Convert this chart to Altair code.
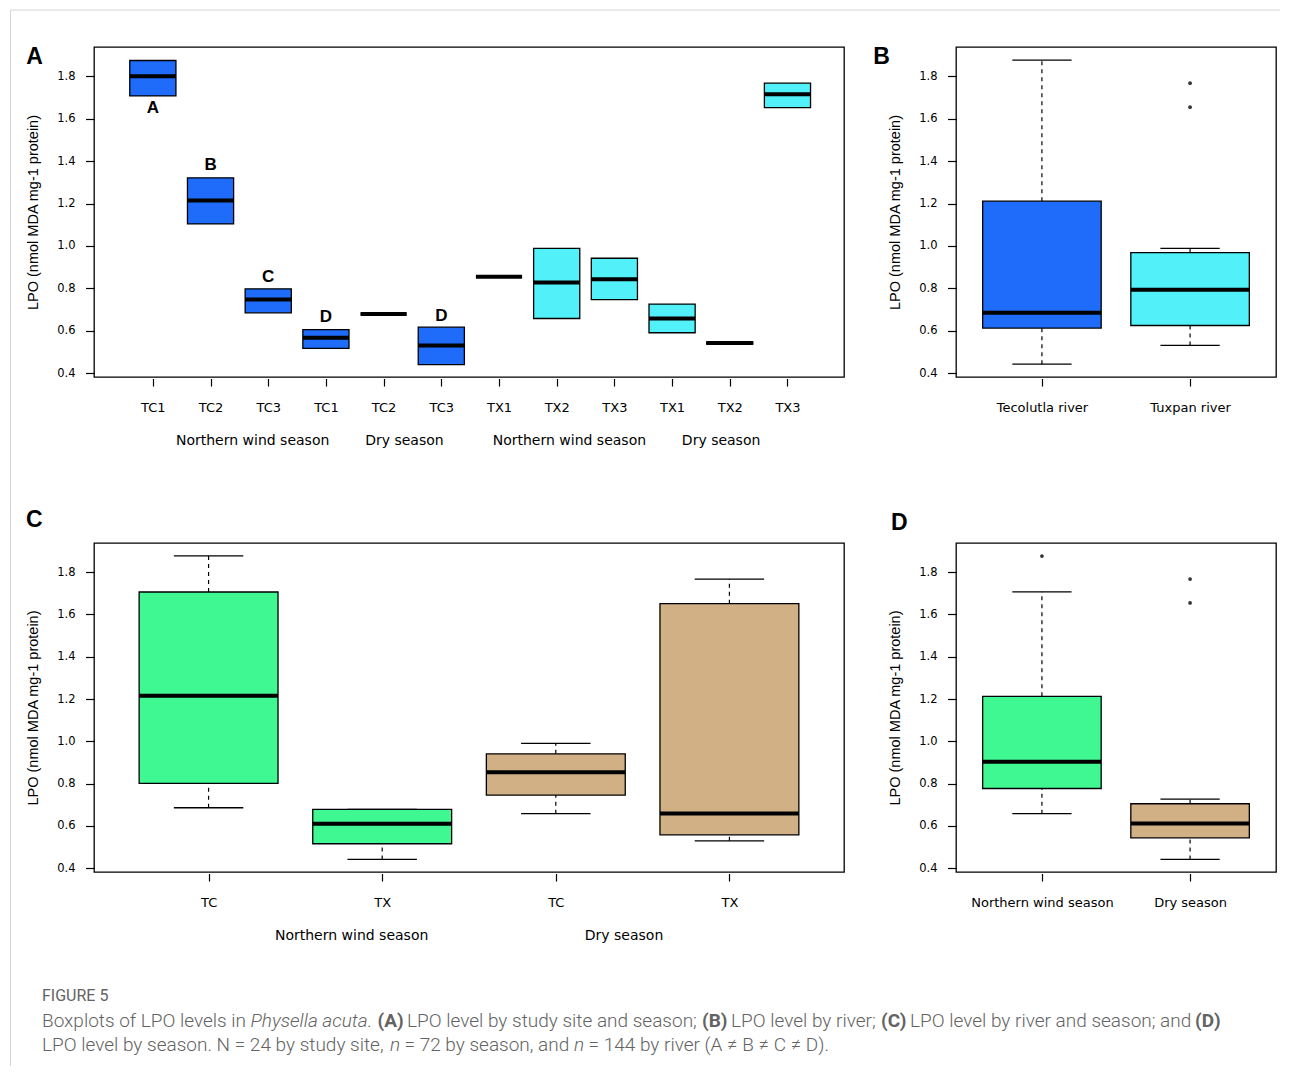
import json
import altair as alt
import pandas as pd

# ---------------- data ----------------
YTICKS = [0.4, 0.6, 0.8, 1.0, 1.2, 1.4, 1.6, 1.8]
YTITLE = "LPO (nmol MDA mg-1 protein)"

# Panel A: by study site and season
A_sites = ["TC1", "TC2", "TC3", "TC1", "TC2", "TC3", "TX1", "TX2", "TX3", "TX1", "TX2", "TX3"]
A_river = ["Tecolutla"] * 6 + ["Tuxpan"] * 6
A_q1 = [1.707, 1.104, 0.685, 0.517, 0.679, 0.441, 0.855, 0.658, 0.747, 0.591, 0.538, 1.652]
A_med = [1.800, 1.214, 0.748, 0.567, 0.679, 0.531, 0.855, 0.828, 0.843, 0.658, 0.543, 1.715]
A_q3 = [1.874, 1.321, 0.798, 0.606, 0.679, 0.617, 0.855, 0.989, 0.942, 0.726, 0.548, 1.767]
A_letter_text = ["A", "B", "C", "D", "D"]
A_letter_pos = [1, 2, 3, 4, 6]
A_letter_val = [1.649, 1.381, 0.853, 0.664, 0.672]
A_season_text = ["Northern wind season", "Dry season", "Northern wind season", "Dry season"]
A_season_pos = [2.73, 5.36, 8.22, 10.85]

# Panel B: by river
B_labels = ["Tecolutla river", "Tuxpan river"]
B_river = ["Tecolutla", "Tuxpan"]
B_lo = [0.443, 0.531]
B_q1 = [0.613, 0.625]
B_med = [0.685, 0.794]
B_q3 = [1.211, 0.969]
B_hi = [1.876, 0.989]
B_out_pos = [2, 2]
B_out_val = [1.767, 1.654]

# Panel C: by river and season
C_labels = ["TC", "TX", "TC", "TX"]
C_season = ["Northern wind", "Northern wind", "Dry", "Dry"]
C_lo = [0.686, 0.442, 0.658, 0.530]
C_q1 = [0.801, 0.516, 0.746, 0.558]
C_med = [1.215, 0.610, 0.854, 0.659]
C_q3 = [1.706, 0.678, 0.941, 1.651]
C_hi = [1.877, 0.678, 0.990, 1.767]
C_season_text = ["Northern wind season", "Dry season"]
C_season_pos = [1.824, 3.393]

# Panel D: by season
D_labels = ["Northern wind season", "Dry season"]
D_season = ["Northern wind", "Dry"]
D_lo = [0.658, 0.442]
D_q1 = [0.777, 0.544]
D_med = [0.903, 0.612]
D_q3 = [1.213, 0.705]
D_hi = [1.707, 0.727]
D_out_pos = [1, 2, 2]
D_out_val = [1.876, 1.767, 1.654]

# ---------------- styles ----------------
RIVER_DOM = ["Tecolutla", "Tuxpan"]
RIVER_COL = ["#1F6BFA", "#52F0F8"]
SEASON_DOM = ["Northern wind", "Dry"]
SEASON_COL = ["#40F891", "#D2B086"]
YDOM = [0.3824, 1.9376]
LBL_FONT = "DejaVu Sans"
TXT = "#000000"


def one(text):
    return alt.Data(values=[{"t": text}])


def panel(df, labels, xdom, width, height, cfield, cdom, crange,
          whiskers=True, outliers=None, label_size=13):
    n = len(labels)
    xs = alt.Scale(domain=xdom, nice=False, zero=False)
    ys = alt.Scale(domain=YDOM, nice=False, zero=False)
    xaxis = alt.Axis(values=list(range(1, n + 1)),
                     labelExpr=json.dumps(labels) + "[datum.value - 1]",
                     grid=False, domain=False, ticks=True, tickSize=7.5,
                     tickColor="black", tickWidth=1.2, offset=1.5,
                     labelFont=LBL_FONT, labelFontSize=label_size, labelColor=TXT,
                     labelPadding=15, labelAngle=0, labelFlush=False,
                     labelOverlap=False, labelBaseline="top")
    yaxis = alt.Axis(values=YTICKS, format=".1f", grid=False, domain=False,
                     ticks=True, tickSize=8.5, tickColor="black", tickWidth=1.2,
                     labelFont=LBL_FONT, labelFontSize=11.5, labelColor=TXT,
                     labelPadding=10.5, labelFlush=False, labelOverlap=False,
                     titleFont="Liberation Sans", titleFontSize=14.5,
                     titleFontWeight="normal", titleColor=TXT, titleAngle=270,
                     titleAlign="center", titleBaseline="middle",
                     titleX=-61, titleY=height / 2)

    def X(f):
        return alt.X(f"{f}:Q", scale=xs, axis=xaxis, title=None)

    def Y(f):
        return alt.Y(f"{f}:Q", scale=ys, axis=yaxis, title=YTITLE)

    base = alt.Chart(df).transform_calculate(
        xl="datum.pos - 0.4", xr="datum.pos + 0.4",
        cl="datum.pos - 0.2", cr="datum.pos + 0.2")
    layers = []
    if whiskers:
        dash = dict(color="black", strokeWidth=1.2, strokeDash=[4, 4])
        layers.append(base.mark_rule(**dash).encode(x=X("pos"), y=Y("q3"), y2="hi"))
        layers.append(base.mark_rule(**dash).encode(x=X("pos"), y=Y("lo"), y2="q1"))
        layers.append(base.mark_rule(color="black", strokeWidth=1.3).encode(
            x=X("cl"), x2="cr", y=Y("hi")))
        layers.append(base.mark_rule(color="black", strokeWidth=1.3).encode(
            x=X("cl"), x2="cr", y=Y("lo")))
    layers.append(base.mark_rect(stroke="black", strokeWidth=1.3, opacity=1).encode(
        x=X("xl"), x2="xr", y=Y("q1"), y2="q3",
        color=alt.Color(f"{cfield}:N", scale=alt.Scale(domain=cdom, range=crange),
                        legend=None)))
    layers.append(base.mark_rule(color="black", strokeWidth=4).encode(
        x=X("xl"), x2="xr", y=Y("med")))
    if outliers is not None:
        layers.append(alt.Chart(outliers).mark_point(
            filled=True, shape="circle", size=14, color="#333333", opacity=1).encode(
            x=X("pos"), y=Y("val")))
    return layers, X, Y


def panel_letter(text, x, y):
    return alt.Chart(one(text)).mark_text(
        font="Liberation Sans", fontWeight="bold", fontSize=23, color="black",
        align="center", baseline="middle", x=x, y=y).encode(text="t:N")


def season_labels(texts, pos, X, y, size=14):
    df = pd.DataFrame({"t": texts, "pos": pos})
    return alt.Chart(df).mark_text(
        font=LBL_FONT, fontSize=size, color=TXT, align="center",
        baseline="middle").encode(x=X("pos"), y=alt.value(y), text="t:N")


# ---------------- panel A ----------------
HA = 330
dfA = pd.DataFrame({"pos": list(range(1, 13)), "site": A_sites, "river": A_river,
                    "q1": A_q1, "med": A_med, "q3": A_q3})
layA, XA, YA = panel(dfA, A_sites, [-0.02, 12.98], 750, HA, "river",
                     RIVER_DOM, RIVER_COL, whiskers=False)
dfAL = pd.DataFrame({"t": A_letter_text, "pos": A_letter_pos, "val": A_letter_val})
layA.append(alt.Chart(dfAL).mark_text(
    font="Liberation Sans", fontWeight="bold", fontSize=17, color="black",
    align="center", baseline="middle").encode(x=XA("pos"), y=YA("val"), text="t:N"))
layA.append(season_labels(A_season_text, A_season_pos, XA, HA + 64))
layA.append(panel_letter("A", -59.5, 9.5))
# outer page frame of the figure
layA.append(alt.Chart(one("")).mark_rule(color="#d4d4d4", strokeWidth=1).encode(
    x=alt.value(-83.5), x2=alt.value(1186), y=alt.value(-37)))
layA.append(alt.Chart(one("")).mark_rule(color="#d4d4d4", strokeWidth=1).encode(
    x=alt.value(-83.5), y=alt.value(-37), y2=alt.value(1019)))
chartA = alt.layer(*layA).properties(width=750, height=HA)

# ---------------- panel B ----------------
dfB = pd.DataFrame({"pos": [1, 2], "river": B_river, "lo": B_lo, "q1": B_q1,
                    "med": B_med, "q3": B_q3, "hi": B_hi})
outB = pd.DataFrame({"pos": B_out_pos, "val": B_out_val})
layB, XB, YB = panel(dfB, B_labels, [0.42, 2.58], 320, HA, "river",
                     RIVER_DOM, RIVER_COL, outliers=outB)
layB.append(panel_letter("B", -74.5, 9.5))
chartB = alt.layer(*layB).properties(width=320, height=HA)

# ---------------- panel C ----------------
HC = 329
dfC = pd.DataFrame({"pos": [1, 2, 3, 4], "season": C_season, "lo": C_lo, "q1": C_q1,
                    "med": C_med, "q3": C_q3, "hi": C_hi})
layC, XC, YC = panel(dfC, C_labels, [0.34, 4.66], 750, HC, "season",
                     SEASON_DOM, SEASON_COL)
layC.append(season_labels(C_season_text, C_season_pos, XC, HC + 64))
layC.append(panel_letter("C", -59.7, -23.5))

# caption (figure legend), positioned relative to panel C
CAP_FONT = "Roboto"
CAP_SIZE = 19.0
CAP_COL = "#636363"
cap_segments = [
    # text, x, y, style, weight
    ("FIGURE 5", -52, 453, "normal", "normal"),
    ("Boxplots of LPO levels in", -52, 478, "normal", 300),
    ("Physella acuta", 156.5, 478, "italic", 300),
    (".", 273, 478, "normal", 300),
    ("(A)", 283.5, 478, "normal", "bold"),
    ("LPO level by study site and season;", 313, 478, "normal", 300),
    ("(B)", 608, 478, "normal", "bold"),
    ("LPO level by river;", 637, 478, "normal", 300),
    ("(C)", 787, 478, "normal", "bold"),
    ("LPO level by river and season; and", 816, 478, "normal", 300),
    ("(D)", 1101, 478, "normal", "bold"),
    ("LPO level by season. N = 24 by study site,", -52, 502, "normal", 300),
    ("n", 296, 502, "italic", 300),
    ("= 72 by season, and", 310.5, 502, "normal", 300),
    ("n", 480, 502, "italic", 300),
    ("= 144 by river (A \u2260 B \u2260 C \u2260 D).", 494.5, 502, "normal", 300),
]
for t, x, y, st, wt in cap_segments:
    size = 16 if t == "FIGURE 5" else CAP_SIZE
    layC.append(alt.Chart(one(t)).mark_text(
        font=CAP_FONT, fontSize=size, fontStyle=st, fontWeight=wt,
        color=CAP_COL, align="left", baseline="middle", x=x, y=y).encode(text="t:N"))
chartC = alt.layer(*layC).properties(width=750, height=HC)

# ---------------- panel D ----------------
dfD = pd.DataFrame({"pos": [1, 2], "season": D_season, "lo": D_lo, "q1": D_q1,
                    "med": D_med, "q3": D_q3, "hi": D_hi})
outD = pd.DataFrame({"pos": D_out_pos, "val": D_out_val})
layD, XD, YD = panel(dfD, D_labels, [0.42, 2.58], 320, HC, "season",
                     SEASON_DOM, SEASON_COL, outliers=outD)
layD.append(panel_letter("D", -56.7, -20))
chartD = alt.layer(*layD).properties(width=320, height=HC)

chart = alt.concat(
    chartA, chartB, chartC, chartD, columns=2,
    spacing={"row": 166, "column": 112}, bounds="flush", align="each",
).properties(
    padding={"left": 1, "top": 0, "right": 0, "bottom": 0},
    background="white",
).resolve_scale(color="independent", x="independent", y="independent"
).configure_view(stroke="black", strokeWidth=1.3)

chart.save("out.html", embed_options={"renderer": "svg", "actions": False})
